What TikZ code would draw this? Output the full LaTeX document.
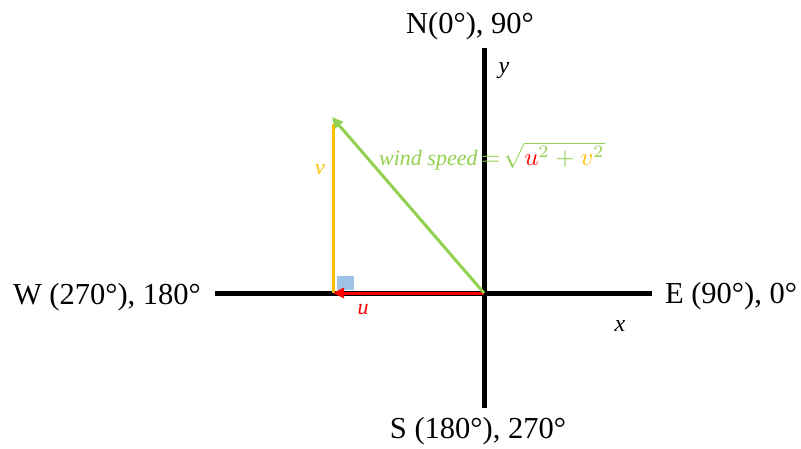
\documentclass[tikz,border=0pt]{standalone}
\usepackage{graphicx}
\usepackage{fontspec}
\setmainfont{Liberation Serif}
\usetikzlibrary{arrows.meta}
\definecolor{wgreen}{RGB}{146,208,80}
\definecolor{worange}{RGB}{255,192,0}
\definecolor{wred}{RGB}{255,0,0}
\definecolor{wblue}{RGB}{157,195,230}
\begin{document}
\begin{tikzpicture}[x=1pt,y=-1pt,
  axisline/.style={line width=5pt,black},
  biglabel/.style={font=\fontsize{30.5}{32}\selectfont,anchor=base,inner sep=0pt},
  varlabel/.style={font=\fontsize{24}{26}\selectfont\itshape,anchor=base,inner sep=0pt},
  vecline/.style={line width=3pt},
  vectip/.style={-{Triangle[length=11pt,width=10pt]}}]
\useasboundingbox (0,0) rectangle (801,448);
% axes
\coordinate (O) at (484,293);
\coordinate (Wend) at (215,293);
\coordinate (Eend) at (652,293);
\coordinate (Nend) at (484,48);
\coordinate (Send) at (484,408);
\draw[axisline] (Wend) -- (Eend);
\draw[axisline] (Nend) -- (Send);
% labels
\node[biglabel] (N) at (470,33) {N(0°), 90°};
\node[biglabel] (S) at (478,438) {S (180°), 270°};
\node[biglabel] (W) at (107,304) {W (270°), 180°};
\node[biglabel] (E) at (731,303) {E (90°), 0°};
\node[varlabel] (ylab) at (504,73) {y};
\node[varlabel] (xlab) at (620,331) {x};
% triangle
\coordinate (C) at (333,293);
\coordinate (T) at (332,117);
\fill[wblue] (337,276) rectangle (354,290);
\draw[vecline,worange] (C) -- (333,124);
\draw[vecline,wred,vectip] (O) -- (C);
\draw[vecline,wgreen,vectip] (O) -- (T);
\node[varlabel,text=worange,font=\fontsize{22}{24}\selectfont\itshape] (vlab) at (320,174) {v};
\node[varlabel,text=wred,font=\fontsize{22}{24}\selectfont\itshape] (ulab) at (363,314) {u};
\node[varlabel,text=wgreen,anchor=base west,font=\fontsize{22}{24}\selectfont\itshape] (ws) at (379,165)
  {wind speed\,\scalebox{2.5}{\fontsize{10}{12}\selectfont$=\!\sqrt{{\color{wred}u}^2+{\color{worange}v}^2}$}};
\end{tikzpicture}
\end{document}
